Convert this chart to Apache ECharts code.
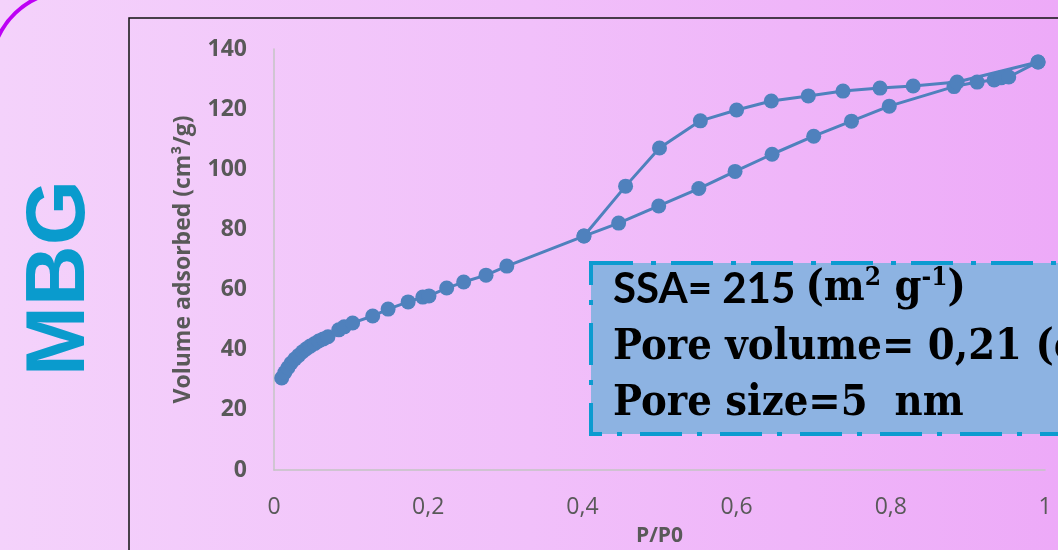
<!DOCTYPE html>
<html lang="en">
<head>
    <meta charset="UTF-8">
    <title>MBG isotherm</title>
    <script src="https://cdn.jsdelivr.net/npm/echarts@6/dist/echarts.min.js"></script>
    <style>
        html, body { margin: 0; padding: 0; }
    </style>
</head>
<body>
<div id="main" style="width: 1058px;height:550px;"></div>

<script>
    // adsorption branch (P/P0, volume)
    var adsX = [0.010, 0.014, 0.018, 0.022, 0.027, 0.032, 0.037, 0.042, 0.047, 0.053, 0.058, 0.064, 0.070,
        0.084, 0.091, 0.102, 0.128, 0.148, 0.174, 0.193, 0.201, 0.224, 0.246, 0.275, 0.302, 0.402,
        0.447, 0.499, 0.551, 0.598, 0.646, 0.700, 0.749, 0.798, 0.882, 0.912, 0.934, 0.943, 0.953, 0.991];
    var adsY = [30.6, 32.4, 34.0, 35.5, 36.9, 38.1, 39.3, 40.3, 41.2, 42.1, 42.9, 43.6, 44.3,
        46.6, 47.6, 48.9, 51.2, 53.5, 55.9, 57.5, 57.9, 60.5, 62.5, 64.8, 67.8, 77.8,
        82.1, 87.8, 93.6, 99.3, 105.0, 111.0, 116.0, 121.0, 127.5, 129.0, 129.7, 130.4, 130.7, 135.7];
    // desorption branch
    var desX = [0.991, 0.886, 0.829, 0.786, 0.738, 0.693, 0.645, 0.600, 0.553, 0.500, 0.456, 0.402];
    var desY = [135.7, 129.0, 127.7, 127.0, 126.0, 124.4, 122.7, 119.7, 116.1, 107.1, 94.4, 77.8];

    var lineColor = '#4f81bd';
    var serif = "'DejaVu Serif Condensed', 'DejaVu Serif', serif";
    var sans = "'Open Sans', sans-serif";

    function pairs(xs, ys) {
        var out = [];
        for (var i = 0; i < xs.length; i++) {
            out.push([xs[i], ys[i]]);
        }
        return out;
    }

    var chart = echarts.init(document.getElementById('main'));

    var option = {
        animation: false,
        graphic: [
            {
                type: 'rect',
                z: -100,
                silent: true,
                shape: {x: 0, y: 0, width: 1058, height: 550},
                style: {
                    fill: new echarts.graphic.LinearGradient(0, 0, 1, 0, [
                        {offset: 0, color: '#f4d2fb'},
                        {offset: 0.5, color: '#f1c0fa'},
                        {offset: 1, color: '#edaaf8'}
                    ])
                }
            },
            {
                type: 'arc',
                z: -50,
                silent: true,
                shape: {cx: 70, cy: 70, r: 79, startAngle: 3.45, endAngle: 4.45},
                style: {stroke: '#bd00f5', lineWidth: 4, fill: null}
            },
            {
                type: 'rect',
                z: -50,
                silent: true,
                shape: {x: 129, y: 18, width: 1000, height: 600},
                style: {stroke: '#111', lineWidth: 1.5, fill: null}
            },
            {
                type: 'text',
                z: 10,
                x: 61,
                y: 278,
                rotation: Math.PI / 2,
                style: {
                    text: 'MBG',
                    fill: '#0a9bcd',
                    font: "bold 84px 'Liberation Sans', Arial, sans-serif",
                    align: 'center',
                    verticalAlign: 'middle'
                }
            },
            {
                type: 'rect',
                z: 100,
                shape: {x: 591, y: 263, width: 520, height: 171},
                style: {
                    fill: '#8db3e2',
                    stroke: '#0c9bd0',
                    lineWidth: 4,
                    lineDash: [42, 18, 5, 15]
                }
            },
            {
                type: 'text',
                z: 101,
                x: 613,
                y: 289,
                style: {
                    text: '{a|SSA= 215 }{b|(m}{s|2}{b| g}{s|-1}{b|)}',
                    verticalAlign: 'middle',
                    rich: {
                        a: {font: "bold 42px Lato, 'Open Sans', sans-serif", fill: '#000', lineHeight: 48},
                        b: {font: 'bold 43px ' + serif, fill: '#000', lineHeight: 48},
                        s: {font: 'bold 26px ' + serif, fill: '#000', lineHeight: 48, verticalAlign: 'top', padding: [0, 0, 18, 0]}
                    }
                }
            },
            {
                type: 'text',
                z: 101,
                x: 613,
                y: 348,
                style: {
                    text: 'Pore volume= 0,21 (cm',
                    fill: '#000',
                    font: 'bold 43px ' + serif,
                    verticalAlign: 'middle'
                }
            },
            {
                type: 'text',
                z: 101,
                x: 613,
                y: 404,
                style: {
                    text: 'Pore size=5  nm',
                    fill: '#000',
                    font: 'bold 43px ' + serif,
                    verticalAlign: 'middle'
                }
            }
        ],
        grid: {
            left: 274,
            right: 13,
            top: 49,
            bottom: 80,
            outerBoundsMode: 'none'
        },
        xAxis: {
            type: 'value',
            min: 0,
            max: 1,
            interval: 0.2,
            name: 'P/P0',
            nameLocation: 'middle',
            nameGap: 56,
            nameTextStyle: {
                color: '#595959',
                fontSize: 21,
                fontWeight: 'bold',
                fontFamily: sans
            },
            axisLine: {show: true, lineStyle: {color: '#c4c4c4', width: 1.5}},
            axisTick: {show: false},
            splitLine: {show: false},
            axisLabel: {
                color: '#595959',
                fontSize: 23,
                margin: 26,
                fontFamily: sans,
                formatter: function (v) {
                    return String(v).replace('.', ',');
                }
            }
        },
        yAxis: {
            type: 'value',
            min: 0,
            max: 140,
            interval: 20,
            name: 'Volume adsorbed (cm³/g)',
            nameLocation: 'middle',
            nameGap: 79,
            nameTextStyle: {
                color: '#595959',
                fontSize: 23,
                fontWeight: 'bold',
                fontFamily: sans
            },
            axisLine: {show: true, lineStyle: {color: '#c4c4c4', width: 1.5}},
            axisTick: {show: false},
            splitLine: {show: false},
            axisLabel: {
                color: '#595959',
                fontSize: 23,
                fontWeight: 'bold',
                margin: 27,
                fontFamily: sans
            }
        },
        series: [
            {
                name: 'Adsorption',
                type: 'line',
                data: pairs(adsX, adsY),
                symbol: 'circle',
                symbolSize: 15,
                itemStyle: {color: lineColor},
                lineStyle: {color: lineColor, width: 3}
            },
            {
                name: 'Desorption',
                type: 'line',
                data: pairs(desX, desY),
                symbol: 'circle',
                symbolSize: 15,
                itemStyle: {color: lineColor},
                lineStyle: {color: lineColor, width: 3}
            }
        ]
    };
    chart.setOption(option);
</script>
</body>
</html>
